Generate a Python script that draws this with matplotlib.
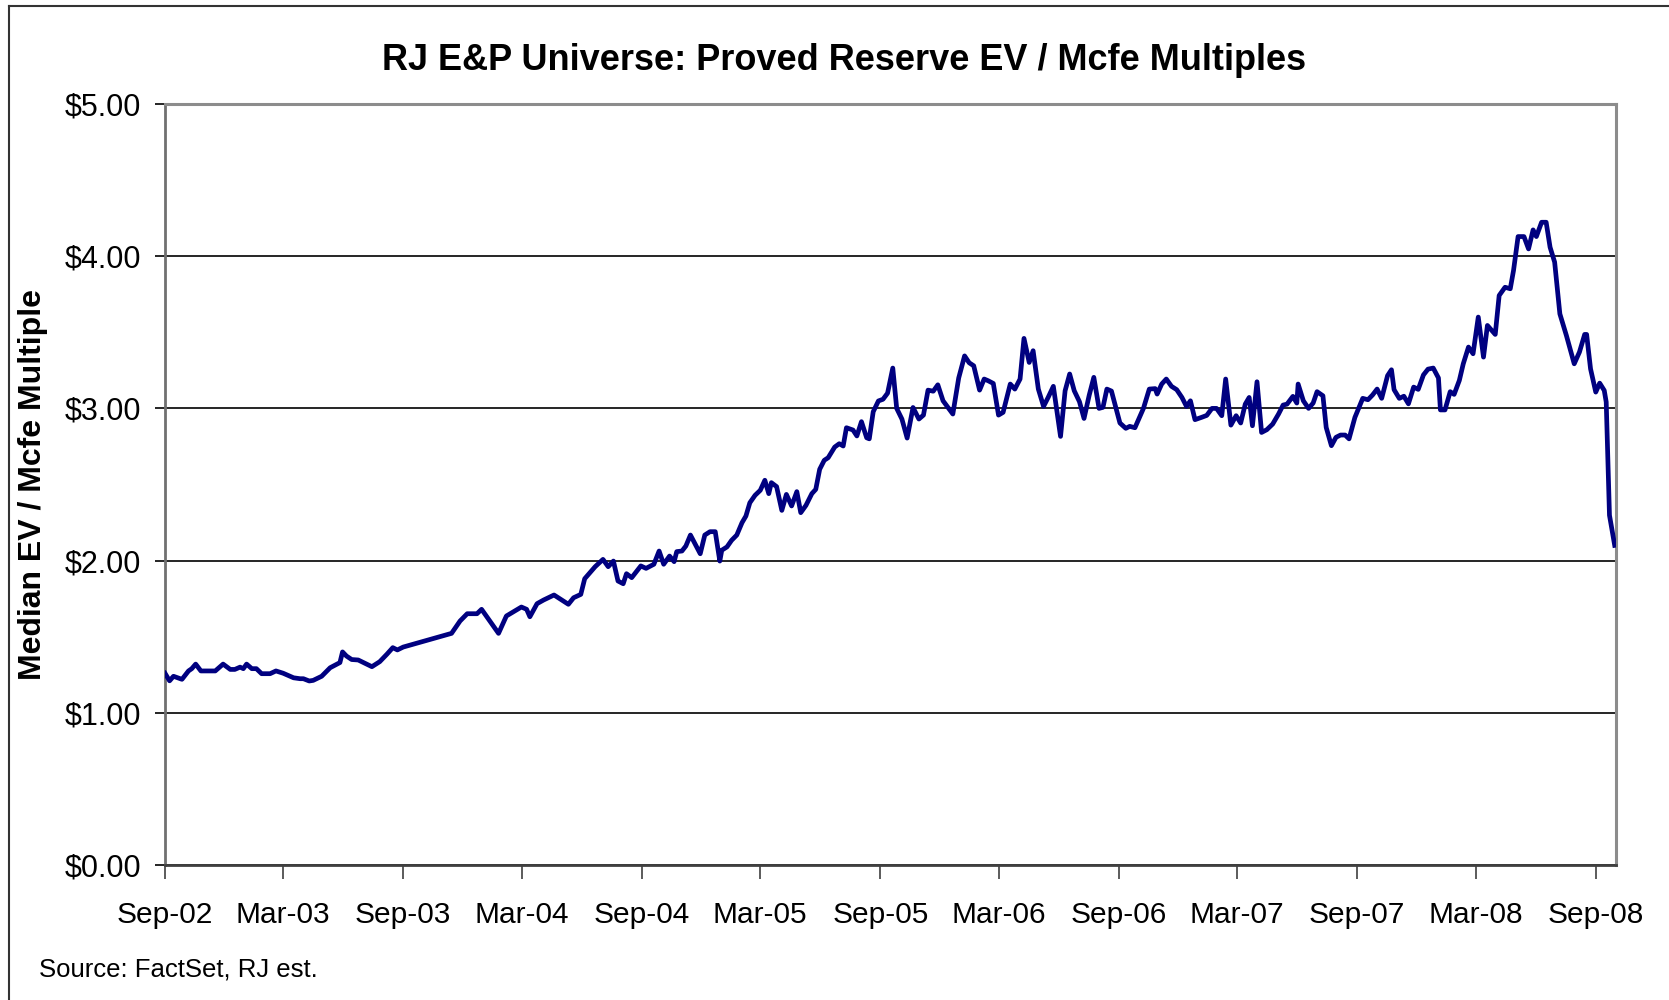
import matplotlib
matplotlib.use("Agg")
import matplotlib.pyplot as plt
from matplotlib.ticker import FuncFormatter
from matplotlib.lines import Line2D
import pandas as pd

plt.rcParams['font.family'] = ['Liberation Sans', 'DejaVu Sans']

title = "RJ E&P Universe: Proved Reserve EV / Mcfe Multiples"
y_label = "Median EV / Mcfe Multiple"
source_note = "Source: FactSet, RJ est."
start_date = "2002-09-01"

# days after start_date
day_offsets = [
    0, 7, 13, 26, 36, 41, 47, 55, 77, 89, 100, 107, 115, 120, 125, 133, 140, 148, 161, 170,
    181, 197, 207, 212, 221, 227, 240, 253, 268, 272, 278, 286, 296, 317, 329, 340, 349, 356, 365,
    439, 452, 463, 478, 485, 511, 523, 546, 554, 559, 570, 580, 596, 618, 626, 637, 643, 659, 671,
    679, 687, 694, 702, 707, 715, 729, 737, 749, 757, 764, 773, 780, 784, 792, 798, 805, 820, 827,
    835, 843, 850, 853, 861, 868, 876, 884, 890, 896, 904, 912, 919, 925, 929, 937, 945, 952, 960,
    968, 974, 982, 991, 997, 1003, 1010, 1016, 1026, 1033, 1039, 1044, 1054, 1060, 1067, 1075, 1079,
    1085, 1093, 1100, 1107, 1115, 1121, 1129, 1137, 1146, 1155, 1162, 1169, 1177, 1184, 1192, 1198,
    1207, 1216, 1225, 1232, 1239, 1248, 1255, 1261, 1269, 1277, 1284, 1295, 1302, 1310, 1316, 1324,
    1330, 1338, 1346, 1353, 1361, 1372, 1379, 1386, 1393, 1401, 1408, 1416, 1423, 1431, 1437, 1443,
    1450, 1463, 1472, 1478, 1486, 1499, 1508, 1517, 1520, 1527, 1534, 1542, 1550, 1558, 1565, 1571,
    1578, 1588, 1596, 1604, 1611, 1619, 1625, 1633, 1641, 1648, 1655, 1661, 1666, 1673, 1680, 1688,
    1697, 1706, 1713, 1719, 1728, 1734, 1736, 1744, 1752, 1759, 1765, 1774, 1779, 1787, 1794, 1801,
    1808, 1814, 1823, 1835, 1843, 1850, 1857, 1864, 1873, 1879, 1883, 1891, 1898, 1905, 1913, 1920,
    1928, 1935, 1943, 1951, 1954, 1961, 1969, 1975, 1983, 1989, 1997, 2004, 2012, 2020, 2026, 2038,
    2044, 2053, 2061, 2066, 2073, 2082, 2089, 2096, 2101, 2109, 2116, 2122, 2129, 2137, 2147, 2159,
    2167, 2175, 2178, 2184, 2192, 2198, 2205, 2208, 2213, 2221,
]

ev_multiple = [
    1.26, 1.21, 1.24, 1.22, 1.275, 1.29, 1.32, 1.275, 1.275, 1.32, 1.285, 1.285, 1.30, 1.29, 1.32,
    1.29, 1.29, 1.257, 1.257, 1.275, 1.26, 1.23, 1.224, 1.224, 1.209, 1.213, 1.24, 1.296, 1.33, 1.40,
    1.373, 1.35, 1.347, 1.303, 1.336, 1.385, 1.428, 1.413, 1.432,
    1.522, 1.603, 1.651, 1.651, 1.68, 1.522, 1.636, 1.695, 1.68, 1.631, 1.717, 1.741, 1.774, 1.713,
    1.756, 1.778, 1.881, 1.96, 2.008, 1.96, 1.997, 1.866, 1.848, 1.914, 1.888, 1.965, 1.949, 1.976,
    2.063, 1.976, 2.03, 1.993, 2.059, 2.063, 2.096, 2.168, 2.045, 2.168, 2.19, 2.19, 1.997, 2.068,
    2.09, 2.133, 2.168, 2.249, 2.293, 2.38, 2.429, 2.462, 2.528, 2.44, 2.512, 2.486, 2.33, 2.435,
    2.359, 2.453, 2.315, 2.363, 2.44, 2.468, 2.60, 2.659, 2.676, 2.746, 2.768, 2.753, 2.873, 2.858,
    2.819, 2.913, 2.807, 2.80,
    2.978, 3.049, 3.06, 3.10, 3.265, 3.0, 2.93, 2.805, 3.006, 2.93, 2.956, 3.12, 3.113, 3.155, 3.05,
    3.015, 2.963, 3.2, 3.345, 3.30, 3.28, 3.12, 3.193, 3.182, 3.164, 2.956, 2.974, 3.16, 3.127, 3.193,
    3.46, 3.302, 3.379, 3.127, 3.013, 3.072, 3.145, 2.816, 3.116, 3.226, 3.116, 3.044, 2.934, 3.088,
    3.204, 3.0, 3.007, 3.127, 3.114, 2.904, 2.869, 2.882, 2.873, 3.0, 3.127, 3.13, 3.094, 3.16, 3.193,
    3.145, 3.123, 3.072, 3.013, 3.05, 2.926, 2.941, 2.954, 3.0, 3.0, 2.952, 3.193, 2.89, 2.952, 2.904,
    3.028, 3.072, 2.886, 3.175, 2.842, 2.86, 2.897, 2.963, 3.022, 3.028, 3.079, 3.035, 3.16, 3.05,
    3.0, 3.035, 3.11, 3.083, 2.875, 2.755, 2.81, 2.825, 2.825, 2.80, 2.941, 3.066, 3.057, 3.088,
    3.127, 3.066, 3.215, 3.254, 3.123, 3.066, 3.08, 3.03, 3.14, 3.125, 3.22, 3.258, 3.265, 3.2, 2.99,
    2.99, 3.11, 3.092, 3.184, 3.293, 3.403, 3.359, 3.60, 3.337, 3.545, 3.486, 3.742, 3.796, 3.786,
    3.906, 4.129, 4.129, 4.048, 4.173, 4.129, 4.223, 4.223, 4.059, 3.961, 3.621, 3.479, 3.293, 3.37,
    3.486, 3.486, 3.26, 3.107, 3.166, 3.118, 3.042, 2.298, 2.10,
]

tick_labels = ["Sep-02", "Mar-03", "Sep-03", "Mar-04", "Sep-04", "Mar-05", "Sep-05",
               "Mar-06", "Sep-06", "Mar-07", "Sep-07", "Mar-08", "Sep-08"]
y_ticks = [0, 1, 2, 3, 4, 5]

dates = pd.Timestamp(start_date) + pd.to_timedelta(day_offsets, unit="D")
tick_dates = pd.to_datetime(tick_labels, format="%b-%y")

fig = plt.figure(figsize=(16.69, 10), dpi=100)
ax = fig.add_axes([165 / 1669, 1 - 865 / 1000, (1616 - 165) / 1669, (865 - 104) / 1000])

ax.plot(dates, ev_multiple, color="#000080", linewidth=3.4, solid_joinstyle="round", zorder=3)

ax.set_ylim(0, 5)
ax.set_xlim(pd.Timestamp(start_date), pd.Timestamp(start_date) + pd.Timedelta(days=2223))
ax.set_yticks(y_ticks)
ax.yaxis.set_major_formatter(FuncFormatter(lambda v, p: f"${v:.2f}"))
ax.set_xticks(tick_dates)
ax.set_xticklabels(tick_labels)

ax.grid(axis="y", color="black", linewidth=1.2, zorder=1)
ax.set_axisbelow(True)

for s in ["top", "right"]:
    ax.spines[s].set_color("#8c8c8c")
    ax.spines[s].set_linewidth(2.2)
ax.spines["left"].set_color("#707070")
ax.spines["left"].set_linewidth(2.0)
ax.spines["bottom"].set_color("#404040")
ax.spines["bottom"].set_linewidth(2.0)

ax.tick_params(axis="y", direction="out", length=7, width=1.2, color="black", pad=10, labelsize=22)
ax.tick_params(axis="x", direction="out", length=10, width=1.2, color="#404040", pad=16, labelsize=21.5)

ax.set_ylabel(y_label, fontsize=23, fontweight="bold", labelpad=12)
fig.text(844 / 1669, 1 - 60 / 1000, title, ha="center", va="center", fontsize=26, fontweight="bold")
fig.text(39 / 1669, 1 - 969 / 1000, source_note, ha="left", va="center", fontsize=18.5)

# outer chart border (top and left edges visible)
fig.add_artist(Line2D([9 / 1669, 1.0], [1 - 6 / 1000] * 2, color="#333333", linewidth=1.5,
                      transform=fig.transFigure))
fig.add_artist(Line2D([9 / 1669] * 2, [0.0, 1 - 6 / 1000], color="#333333", linewidth=1.5,
                      transform=fig.transFigure))

fig.savefig("out.png", dpi=100, facecolor="white")
